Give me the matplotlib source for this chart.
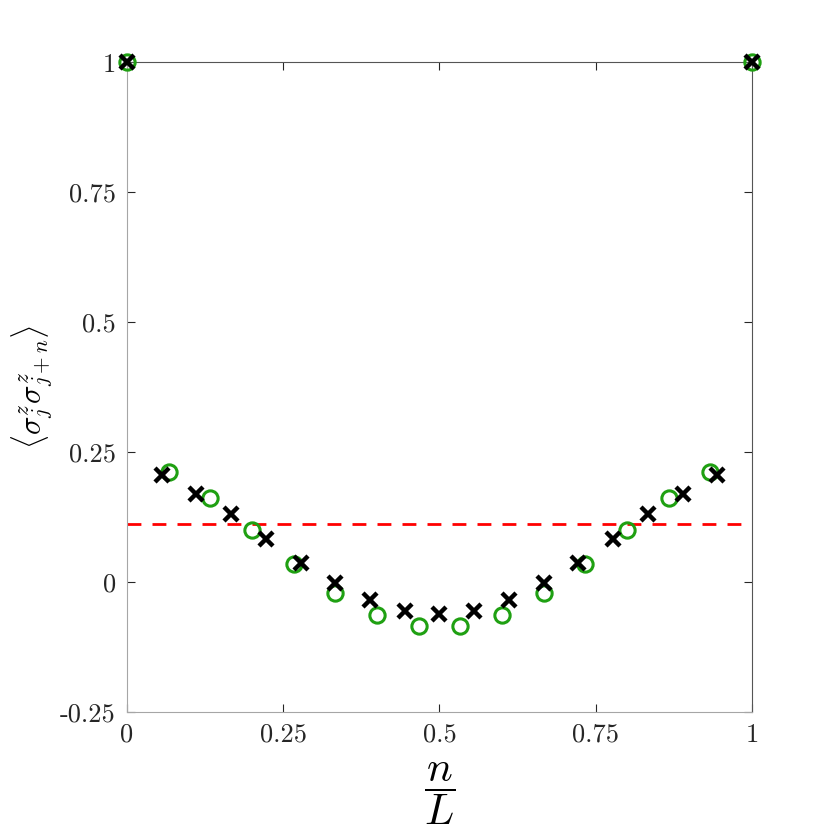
import matplotlib
matplotlib.use("Agg")
import matplotlib.pyplot as plt
import numpy as np

plt.rcParams['mathtext.fontset'] = 'cm'
plt.rcParams['font.family'] = 'cmr10'
plt.rcParams['axes.unicode_minus'] = False

# green circles, n/L = k/15
circ_x = np.arange(16) / 15
circ_y = [1.0, 0.2115, 0.1615, 0.100, 0.0346, -0.0212, -0.0635, -0.0846,
          -0.0846, -0.0635, -0.0212, 0.0346, 0.100, 0.1615, 0.2115, 1.0]

# black crosses, n/L = k/18
cross_x = np.arange(19) / 18
cross_y = [1.0, 0.206, 0.169, 0.131, 0.083, 0.0365, -0.002, -0.0346, -0.0558,
           -0.0615, -0.0558, -0.0346, -0.002, 0.0365, 0.083, 0.131, 0.169, 0.206, 1.0]

ref_level = 1 / 9

xticks = [0, 0.25, 0.5, 0.75, 1]
xlabels = ['0', '0.25', '0.5', '0.75', '1']
yticks = [-0.25, 0, 0.25, 0.5, 0.75, 1]
ylabels = ['-0.25', '0', '0.25', '0.5', '0.75', '1']

fig = plt.figure(figsize=(8.3, 8.3), dpi=100)
ax = fig.add_axes([0.153, 0.142, 0.753, 0.783])

ax.axhline(ref_level, color='#ff0000', linestyle=(0, (5, 4)), linewidth=2, zorder=1)
ax.plot(circ_x, circ_y, linestyle='None', marker='o', markersize=11,
        markerfacecolor='none', markeredgecolor='#1fa012', markeredgewidth=2.2,
        clip_on=False, zorder=3)
ax.plot(cross_x, cross_y, linestyle='None', marker='x', markersize=10,
        color='black', markeredgewidth=3.2, clip_on=False, zorder=4)

ax.set_xlim(0, 1)
ax.set_ylim(-0.25, 1)
ax.set_xticks(xticks)
ax.set_xticklabels(xlabels)
ax.set_yticks(yticks)
ax.set_yticklabels(ylabels)
ax.tick_params(direction='in', top=True, right=True, length=6, width=0.8,
               labelsize=19, colors='#262626', pad=8)
for side in ['left', 'bottom']:
    ax.spines[side].set_color('#a6a6a6')
for side in ['top', 'right']:
    ax.spines[side].set_color('#555555')

ax.set_xlabel(r'$\dfrac{n}{L}$', fontsize=31, labelpad=10)
ax.set_ylabel(r'$\langle\sigma^z_j\sigma^z_{j+n}\rangle$', fontsize=22, labelpad=4)

fig.savefig('out.png', dpi=100)
